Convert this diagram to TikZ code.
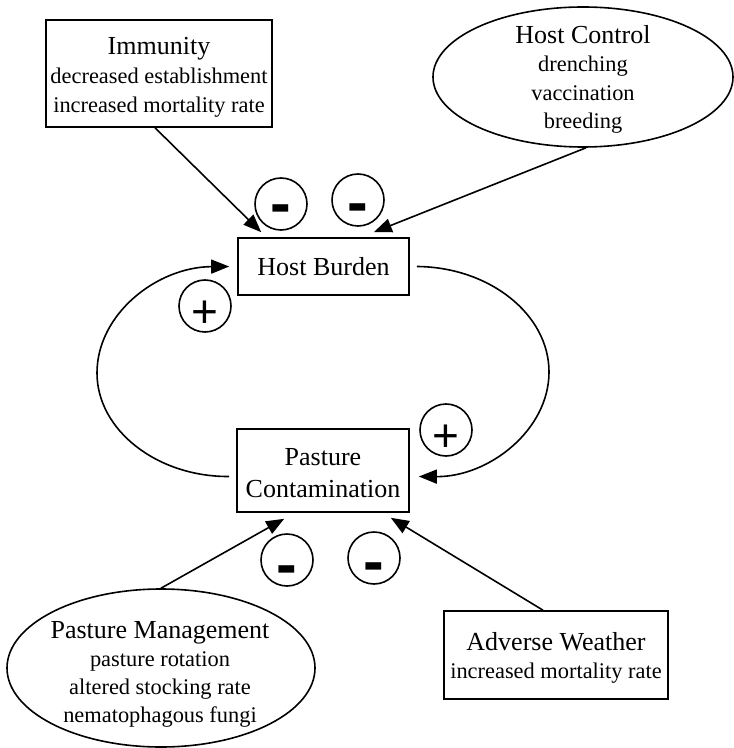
\documentclass[tikz,border=0pt]{standalone}
\usepackage{fontspec}
\setmainfont{Liberation Serif}
\newfontfamily\signfont{Liberation Sans}
\usetikzlibrary{shapes.geometric,arrows.meta}
\begin{document}
\begin{tikzpicture}[x=0.5pt,y=-0.5pt,
  shp/.style={draw, line width=0.8pt, inner sep=0pt},
  boxs/.style={shp, rectangle},
  ovals/.style={shp, ellipse},
  txt/.style={align=center, inner sep=0pt, font=\fontsize{11.2}{#1}\selectfont},
  ttl/.style={align=center, inner sep=0pt, font=\fontsize{13}{16}\selectfont},
  sign/.style={draw, circle, line width=0.8pt, minimum size=26pt, inner sep=0pt},
  minus/.style={inner sep=0pt, font=\signfont\bfseries\fontsize{31}{31}\selectfont},
  plus/.style={inner sep=0pt, font=\signfont\fontsize{23}{23}\selectfont},
  conn/.style={-{Triangle[length=9pt,width=7pt]}, line width=0.8pt}]
\useasboundingbox (0,0) rectangle (733,748);

% shapes
\node[boxs, minimum width=113pt, minimum height=53.5pt] (imm) at (159,73.5) {};
\node[txt=14.5pt] (immt) at (159,77) {{\fontsize{13}{16}\selectfont Immunity}\\decreased establishment\\increased mortality rate};

\node[ovals, minimum width=150pt, minimum height=70pt] (hc) at (583,77) {};
\node[txt=14.25pt] (hct) at (583,79.5) {{\fontsize{13}{16}\selectfont Host Control}\\drenching\\vaccination\\breeding};

\node[boxs, minimum width=85.5pt, minimum height=28.5pt] (hb) at (323.5,266.5) {};
\node[ttl] (hbt) at (323.5,267) {Host Burden};

\node[boxs, minimum width=86pt, minimum height=41.5pt] (pc) at (323,470.5) {};
\node[ttl] (pct) at (323,473) {Pasture\\Contamination};

\node[ovals, minimum width=154pt, minimum height=79pt] (pm) at (161,668) {};
\node[txt=14pt] (pmt) at (160,674) {{\fontsize{13}{16}\selectfont Pasture Management}\\pasture rotation\\altered stocking rate\\nematophagous fungi};

\node[boxs, minimum width=112pt, minimum height=44pt] (aw) at (556,655) {};
\node[txt=14pt] (awt) at (556,658) {{\fontsize{13}{16}\selectfont Adverse Weather}\\increased mortality rate};

% signs
\node[sign] (m1) at (281,204) {};
\node[minus, yshift=-5.5pt] (m1t) at (m1) {-};
\node[sign] (m2) at (358,200) {};
\node[minus, yshift=-7pt] (m2t) at (m2) {-};
\node[sign] (p1) at (205,306) {};
\node[plus, yshift=-4pt] (p1t) at (p1) {+};
\node[sign] (p2) at (446,430) {};
\node[plus, yshift=-4pt] (p2t) at (p2) {+};
\node[sign] (m3) at (287,560) {};
\node[minus, yshift=-8pt] (m3t) at (m3) {-};
\node[sign] (m4) at (374,558) {};
\node[minus, yshift=-7.5pt] (m4t) at (m4) {-};

% connectors
\draw[conn] ([xshift=-2pt]imm.south) -- ([xshift=12pt,yshift=2.5pt]hb.north west);
\draw[conn] ([xshift=1.5pt]hc.south) -- ([xshift=-18pt,yshift=2.5pt]hb.north east);
\draw[conn] (pm.north) -- ([xshift=24pt,yshift=-3pt]pc.south west);
\draw[conn] ([xshift=-6.5pt]aw.north) -- ([xshift=-9.5pt,yshift=-2.5pt]pc.south east);

\draw[conn] ([xshift=-3.5pt,yshift=-3pt]pc.west) .. controls (157,477) and (97,430) .. (97,373)
  .. controls (97,314) and (157,267) .. ([xshift=-4pt]hb.west);
\draw[conn] ([xshift=3.5pt]hb.east) .. controls (489,267) and (549,314) .. (549,372)
  .. controls (549,430) and (489,477) .. ([xshift=4.5pt,yshift=-3pt]pc.east);
\end{tikzpicture}
\end{document}
